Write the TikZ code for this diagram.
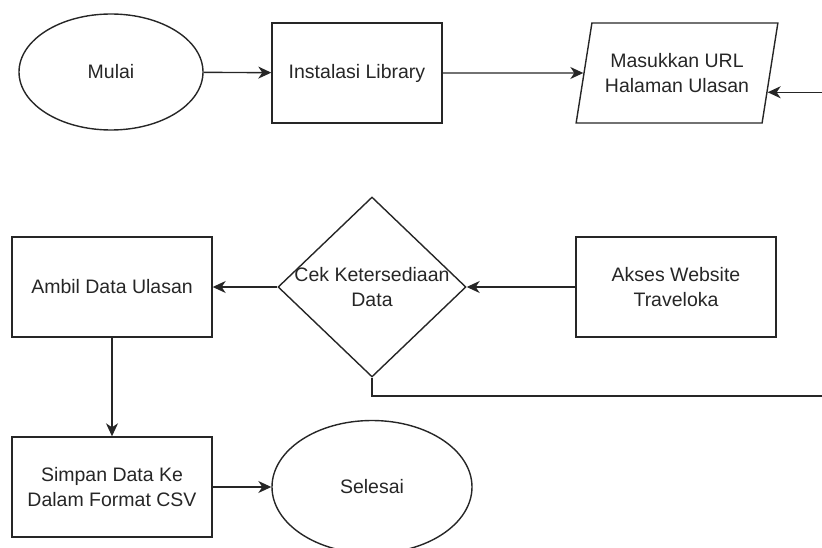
\documentclass[tikz,border=0pt]{standalone}
\usepackage{fontspec}
\setmainfont{Liberation Sans}
\usetikzlibrary{shapes.geometric,arrows.meta,calc}

\begin{document}
\begin{tikzpicture}[%
      x=1pt, y=-1pt,
      every node/.style={font=\fontsize{19.5}{24.5}\selectfont, text=black!85, align=center},
      garis/.style={draw=black!85, line width=1.4pt},
      panah/.style={garis, -{Stealth[length=13pt, width=12pt, inset=4pt]}},
      proses/.style={draw=black!85, line width=1.4pt, minimum width=200pt, minimum height=100pt, inner sep=0pt},
      terminal/.style={ellipse, draw=black!85, line width=1.4pt, inner sep=0pt},
      masukan/.style={trapezium, trapezium left angle=71, trapezium right angle=109,
        trapezium stretches=true, draw=black!85, line width=1.4pt,
        minimum width=202pt, minimum height=100pt, inner sep=0pt},
      keputusan/.style={diamond, draw=black!85, line width=1.4pt,
        minimum width=188pt, minimum height=180pt, inner sep=0pt},
      ]
      \useasboundingbox (0,0) rectangle (822,548);
      \clip (0,0) rectangle (822,548);

      % baris atas
      \node [terminal, minimum width=184pt, minimum height=116pt] (mulai) at (111,72) {Mulai};
      \node [proses, minimum width=170pt] (instal) at (357,73) {Instalasi Library};
      \node [masukan] (url) at (677,73) {Masukkan URL\\Halaman Ulasan};

      % baris tengah
      \node [proses] (akses) at (676,287) {Akses Website\\Traveloka};
      \node [keputusan, label={[align=center]center:{Cek Ketersediaan\\Data}}] (cek) at (372,287) {};
      \node [proses] (ambil) at (112,287) {Ambil Data Ulasan};

      % baris bawah
      \node [proses] (simpan) at (112,487) {Simpan Data Ke\\Dalam Format CSV};
      \node [terminal, minimum width=200pt, minimum height=133pt] (selesai) at (372,487) {Selesai};

      \coordinate (bawah) at (834,396);
      \coordinate (masuk) at ($(url.bottom right corner)!0.31!(url.top right corner)$);

      \draw [panah] (mulai) -- (instal);
      \draw [panah] (instal) -- (url);
      \draw [panah] (akses) -- (cek);
      \draw [panah] (cek) -- (ambil);
      \draw [panah] (ambil) -- (simpan);
      \draw [panah] (simpan) -- (selesai);
      \draw [panah] (cek.south) |- (bawah) |- (masuk);
      \end{tikzpicture}
\end{document}
